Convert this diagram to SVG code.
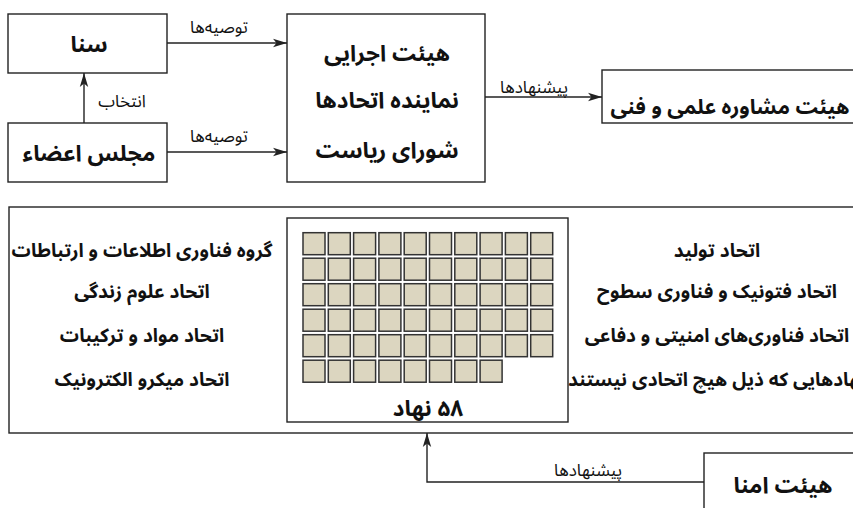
<svg xmlns="http://www.w3.org/2000/svg" width="853" height="508" viewBox="0 0 853 508">
<style>
.box{fill:#fff;stroke:#222;stroke-width:1.4}
.sq{fill:#dcd6c0;stroke:#333;stroke-width:1.5}
.con{fill:none;stroke:#222;stroke-width:1.4}
text{font-family:"Noto Sans Arabic","DejaVu Sans",sans-serif;fill:#111;direction:rtl;text-anchor:middle}
.t{font-size:22.5px;font-weight:bold}
.l{font-size:19px;font-weight:bold}
.lab{font-size:17px}
</style>
<defs>
<marker id="ah" viewBox="0 0 14 10" refX="14" refY="5" markerWidth="14" markerHeight="10" markerUnits="userSpaceOnUse" orient="auto">
<path d="M0,0.8 L14,5 L0,9.2 L3.5,5 z" fill="#222"/>
</marker>
</defs>
<rect width="853" height="508" fill="#fff"/>
<g id="big">
<rect class="box" x="9" y="207" width="860" height="226"/>
<text class="l" x="142" y="257">گروه فناوری اطلاعات و ارتباطات</text>
<text class="l" x="142" y="298">اتحاد علوم زندگی</text>
<text class="l" x="142" y="342">اتحاد مواد و ترکیبات</text>
<text class="l" x="142" y="386">اتحاد میکرو الکترونیک</text>
<text class="l" x="717" y="257">اتحاد تولید</text>
<text class="l" x="717" y="298">اتحاد فتونیک و فناوری سطوح</text>
<text class="l" x="717" y="342">اتحاد فناوری‌های امنیتی و دفاعی</text>
<text class="l" x="717" y="386">نهادهایی که ذیل هیچ اتحادی نیستند</text>
</g>
<g id="nahad">
<rect class="box" x="287" y="218" width="281" height="204"/>
<g id="squares">
<rect class="sq" x="303" y="232.7" width="22" height="22"/><rect class="sq" x="328.3" y="232.7" width="22" height="22"/><rect class="sq" x="353.6" y="232.7" width="22" height="22"/><rect class="sq" x="378.9" y="232.7" width="22" height="22"/><rect class="sq" x="404.2" y="232.7" width="22" height="22"/><rect class="sq" x="429.5" y="232.7" width="22" height="22"/><rect class="sq" x="454.8" y="232.7" width="22" height="22"/><rect class="sq" x="480.1" y="232.7" width="22" height="22"/><rect class="sq" x="505.4" y="232.7" width="22" height="22"/><rect class="sq" x="530.7" y="232.7" width="22" height="22"/>
<rect class="sq" x="303" y="258.2" width="22" height="22"/><rect class="sq" x="328.3" y="258.2" width="22" height="22"/><rect class="sq" x="353.6" y="258.2" width="22" height="22"/><rect class="sq" x="378.9" y="258.2" width="22" height="22"/><rect class="sq" x="404.2" y="258.2" width="22" height="22"/><rect class="sq" x="429.5" y="258.2" width="22" height="22"/><rect class="sq" x="454.8" y="258.2" width="22" height="22"/><rect class="sq" x="480.1" y="258.2" width="22" height="22"/><rect class="sq" x="505.4" y="258.2" width="22" height="22"/><rect class="sq" x="530.7" y="258.2" width="22" height="22"/>
<rect class="sq" x="303" y="283.7" width="22" height="22"/><rect class="sq" x="328.3" y="283.7" width="22" height="22"/><rect class="sq" x="353.6" y="283.7" width="22" height="22"/><rect class="sq" x="378.9" y="283.7" width="22" height="22"/><rect class="sq" x="404.2" y="283.7" width="22" height="22"/><rect class="sq" x="429.5" y="283.7" width="22" height="22"/><rect class="sq" x="454.8" y="283.7" width="22" height="22"/><rect class="sq" x="480.1" y="283.7" width="22" height="22"/><rect class="sq" x="505.4" y="283.7" width="22" height="22"/><rect class="sq" x="530.7" y="283.7" width="22" height="22"/>
<rect class="sq" x="303" y="309.2" width="22" height="22"/><rect class="sq" x="328.3" y="309.2" width="22" height="22"/><rect class="sq" x="353.6" y="309.2" width="22" height="22"/><rect class="sq" x="378.9" y="309.2" width="22" height="22"/><rect class="sq" x="404.2" y="309.2" width="22" height="22"/><rect class="sq" x="429.5" y="309.2" width="22" height="22"/><rect class="sq" x="454.8" y="309.2" width="22" height="22"/><rect class="sq" x="480.1" y="309.2" width="22" height="22"/><rect class="sq" x="505.4" y="309.2" width="22" height="22"/><rect class="sq" x="530.7" y="309.2" width="22" height="22"/>
<rect class="sq" x="303" y="334.7" width="22" height="22"/><rect class="sq" x="328.3" y="334.7" width="22" height="22"/><rect class="sq" x="353.6" y="334.7" width="22" height="22"/><rect class="sq" x="378.9" y="334.7" width="22" height="22"/><rect class="sq" x="404.2" y="334.7" width="22" height="22"/><rect class="sq" x="429.5" y="334.7" width="22" height="22"/><rect class="sq" x="454.8" y="334.7" width="22" height="22"/><rect class="sq" x="480.1" y="334.7" width="22" height="22"/><rect class="sq" x="505.4" y="334.7" width="22" height="22"/><rect class="sq" x="530.7" y="334.7" width="22" height="22"/>
<rect class="sq" x="303" y="360.2" width="22" height="22"/><rect class="sq" x="328.3" y="360.2" width="22" height="22"/><rect class="sq" x="353.6" y="360.2" width="22" height="22"/><rect class="sq" x="378.9" y="360.2" width="22" height="22"/><rect class="sq" x="404.2" y="360.2" width="22" height="22"/><rect class="sq" x="429.5" y="360.2" width="22" height="22"/><rect class="sq" x="454.8" y="360.2" width="22" height="22"/><rect class="sq" x="480.1" y="360.2" width="22" height="22"/>
</g>
<text class="t" x="428" y="416">۵۸ نهاد</text>
</g>
<g id="sena">
<rect class="box" x="8" y="14" width="159" height="59"/>
<text class="t" x="89" y="52">سنا</text>
</g>
<g id="majles">
<rect class="box" x="8" y="123" width="159" height="59"/>
<text class="t" x="89" y="161">مجلس اعضاء</text>
</g>
<g id="exec">
<rect class="box" x="287" y="14" width="198" height="168"/>
<text class="t" x="387" y="61">هیئت اجرایی</text>
<text class="t" x="387" y="108">نماینده اتحادها</text>
<text class="t" x="387" y="158">شورای ریاست</text>
</g>
<g id="moshavere">
<rect class="box" x="602" y="70" width="270" height="53"/>
<text class="t" x="730" y="114" style="font-size:21px">هیئت مشاوره علمی و فنی</text>
</g>
<g id="omana">
<rect class="box" x="704" y="453" width="170" height="70"/>
<text class="t" x="783" y="493">هیئت امنا</text>
</g>
<g id="connectors">
<line class="con" x1="167" y1="43" x2="287" y2="43" marker-end="url(#ah)"/>
<line class="con" x1="167" y1="152" x2="287" y2="152" marker-end="url(#ah)"/>
<line class="con" x1="84" y1="123" x2="84" y2="73" marker-end="url(#ah)"/>
<line class="con" x1="485" y1="97" x2="602" y2="97" marker-end="url(#ah)"/>
<path class="con" d="M704,482 H427 V433" marker-end="url(#ah)"/>
<text class="lab" x="219" y="33">توصیه‌ها</text>
<text class="lab" x="219" y="142">توصیه‌ها</text>
<text class="lab" x="122" y="107">انتخاب</text>
<text class="lab" x="534" y="93">پیشنهادها</text>
<text class="lab" x="588" y="476">پیشنهادها</text>
</g>
</svg>
